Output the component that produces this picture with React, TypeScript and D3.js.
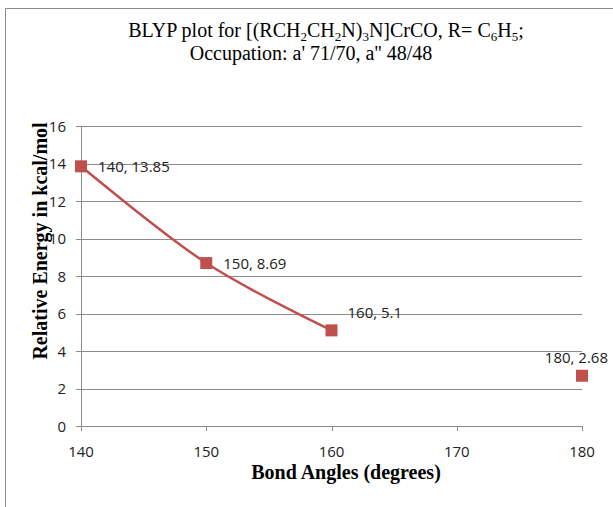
import React from "react";
import * as d3 from "d3";

const lineAngles = [140, 150, 160];
const lineEnergies = [13.85, 8.69, 5.1];
const soloAngles = [180];
const soloEnergies = [2.68];
const xTicks = [140, 150, 160, 170, 180];
const yTicks = [0, 2, 4, 6, 8, 10, 12, 14, 16];
const pointLabels = ["140, 13.85", "150, 8.69", "160, 5.1", "180, 2.68"];

const W = 613, H = 507;
const RED = "#C0504D";

export default function App() {
  const x = d3.scaleLinear().domain([140, 180]).range([81, 582]);
  const y = d3.scaleLinear().domain([0, 16]).range([426, 126]);
  const linePts: [number, number][] = lineAngles.map((a, i) => [x(a), y(lineEnergies[i])]);
  const path = d3.line().curve(d3.curveCardinal.tension(0))(linePts) || "";
  const allPts = [
    ...lineAngles.map((a, i) => ({ a, e: lineEnergies[i] })),
    ...soloAngles.map((a, i) => ({ a, e: soloEnergies[i] })),
  ];
  const labelOffsets = [
    [17, 6, "start"],
    [17, 6, "start"],
    [16, -12, "start"],
    [26, -13, "end"],
  ] as const;
  const sans = "'Open Sans', 'Liberation Sans', sans-serif";
  const serif = "'Liberation Serif', 'Times New Roman', serif";
  const fs = 15;
  const sd = 3.5;
  const sf = 13;
  return (
    <svg width={W} height={H} style={{ position: "absolute", left: 0, top: 0 }}>
      <rect x={0} y={0} width={W} height={H} fill="#fff" />
      <line x1={5.5} y1={8.5} x2={W} y2={8.5} stroke="#8c8c8c" />
      <line x1={5.5} y1={8.5} x2={5.5} y2={H} stroke="#8c8c8c" />
      <text x={326} y={37} textAnchor="middle" fontFamily={serif} fontSize={20} fill="#000">
        BLYP plot for [(RCH<tspan dy={sd} fontSize={sf}>2</tspan><tspan dy={-sd}>CH</tspan>
        <tspan dy={sd} fontSize={sf}>2</tspan><tspan dy={-sd}>N)</tspan>
        <tspan dy={sd} fontSize={sf}>3</tspan><tspan dy={-sd}>N]CrCO, R= C</tspan>
        <tspan dy={sd} fontSize={sf}>6</tspan><tspan dy={-sd}>H</tspan>
        <tspan dy={sd} fontSize={sf}>5</tspan><tspan dy={-sd}>;</tspan>
      </text>
      <text x={311} y={60} textAnchor="middle" fontFamily={serif} fontSize={20} fill="#000">
        Occupation: a' 71/70, a'' 48/48
      </text>
      {yTicks.map((t) => (
        <g key={"y" + t}>
          <line x1={76} x2={582} y1={Math.round(y(t)) + 0.5} y2={Math.round(y(t)) + 0.5} stroke="#8c8c8c" />
          <text x={66} y={y(t) + 5.5} textAnchor="end" fontFamily={sans} fontSize={fs} fill="#222">{t}</text>
        </g>
      ))}
      <line x1={81.5} x2={81.5} y1={126} y2={426} stroke="#8c8c8c" />
      {xTicks.map((t) => (
        <g key={"x" + t}>
          <line x1={Math.round(x(t)) + 0.5} x2={Math.round(x(t)) + 0.5} y1={426} y2={431} stroke="#8c8c8c" />
          <text x={x(t)} y={457} textAnchor="middle" fontFamily={sans} fontSize={fs} fill="#222">{t}</text>
        </g>
      ))}
      <path d={path} fill="none" stroke={RED} strokeWidth={2.5} />
      {allPts.map((p, i) => (
        <rect key={"m" + i} x={x(p.a) - 6} y={y(p.e) - 6} width={12} height={12} fill={RED} />
      ))}
      {allPts.map((p, i) => (
        <text key={"l" + i} x={x(p.a) + labelOffsets[i][0]} y={y(p.e) + labelOffsets[i][1]}
          textAnchor={labelOffsets[i][2]} fontFamily={sans} fontSize={fs} fill="#222">
          {pointLabels[i]}
        </text>
      ))}
      <text x={346} y={479} textAnchor="middle" fontFamily={serif} fontSize={20} fontWeight="bold" fill="#000">
        Bond Angles (degrees)
      </text>
      <text transform="translate(47,241) rotate(-90)" textAnchor="middle" fontFamily={serif} fontSize={20} fontWeight="bold" fill="#000">
        Relative Energy in kcal/mol
      </text>
    </svg>
  );
}
